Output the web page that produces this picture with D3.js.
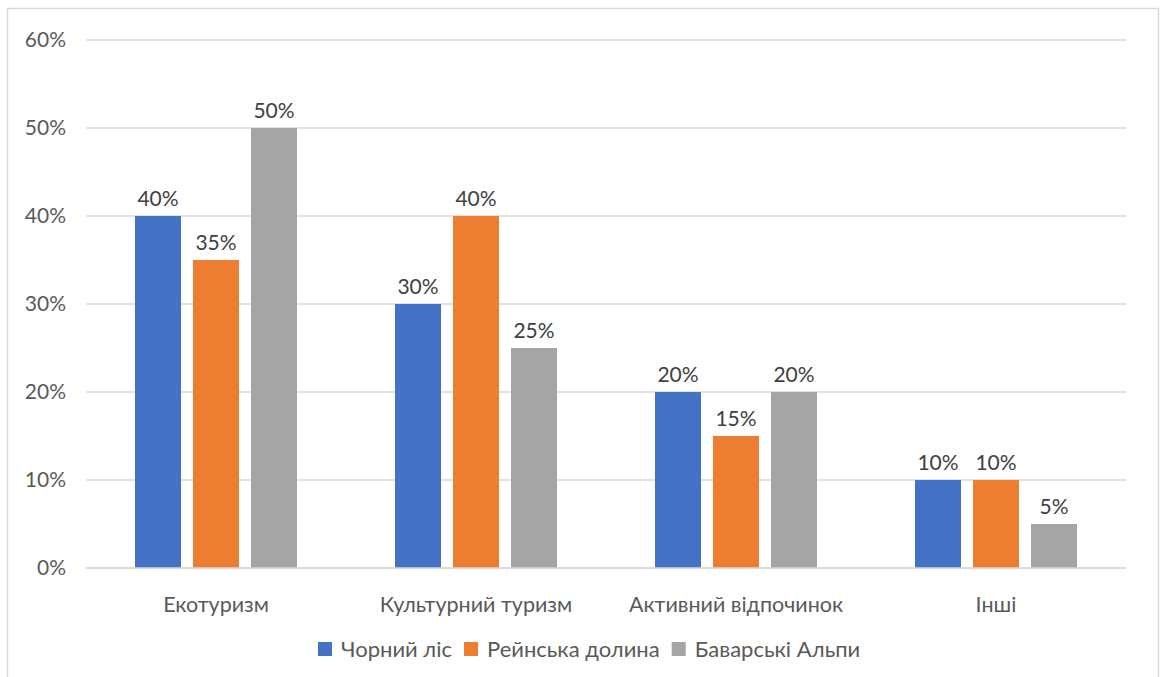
<!DOCTYPE html>
<html>
<head>
<meta charset="utf-8">
<script src="https://cdn.jsdelivr.net/npm/d3@7"></script>
<style>
  html, body { margin: 0; padding: 0; background: #fff; }
  svg { display: block; font-family: Lato, "Open Sans", sans-serif; }
</style>
</head>
<body>
<svg id="chart" width="1166" height="677"></svg>
<script>
// Data
var categories = ['Екотуризм', 'Культурний туризм', 'Активний відпочинок', 'Інші'];
var seriesNames = ['Чорний ліс', 'Рейнська долина', 'Баварські Альпи'];
var blackForest = [40, 30, 20, 10];
var rhineValley = [35, 40, 15, 10];
var bavarianAlps = [50, 25, 20, 5];
var yTicks = [0, 10, 20, 30, 40, 50, 60];

var seriesValues = [blackForest, rhineValley, bavarianAlps];
var colors = ['#4472c4', '#ed7d31', '#a5a5a5'];
var textColor = '#595959';

var svg = d3.select('#chart');

// chart border
svg.append('rect')
    .attr('x', 7.5).attr('y', 8.5)
    .attr('width', 1151).attr('height', 700)
    .attr('fill', 'none')
    .attr('stroke', '#d9d9d9')
    .attr('stroke-width', 1.5);

var plotLeft = 86, plotRight = 1126, plotTop = 40, plotBottom = 568;

var x = d3.scaleBand().domain(categories).range([plotLeft, plotRight]);
var y = d3.scaleLinear().domain([0, 60]).range([plotBottom, plotTop]);

var barW = 46, gap = 12;
var xSub = function(si) {
    return (x.bandwidth() - (3 * barW + 2 * gap)) / 2 + si * (barW + gap);
};

// gridlines
svg.append('g').selectAll('line')
    .data(yTicks).enter().append('line')
    .attr('x1', plotLeft).attr('x2', plotRight)
    .attr('y1', function(d){ return y(d); })
    .attr('y2', function(d){ return y(d); })
    .attr('stroke', '#d9d9d9')
    .attr('stroke-width', 1.5);

// y axis labels
svg.append('g').selectAll('text')
    .data(yTicks).enter().append('text')
    .attr('x', 66)
    .attr('y', function(d){ return y(d); })
    .attr('dy', '0.35em')
    .attr('text-anchor', 'end')
    .attr('fill', textColor)
    .attr('font-size', 21)
    .text(function(d){ return d + '%'; });

// bars
seriesValues.forEach(function(vals, si) {
    var g = svg.append('g');
    g.selectAll('rect')
        .data(vals).enter().append('rect')
        .attr('x', function(d, i){ return x(categories[i]) + xSub(si); })
        .attr('y', function(d){ return y(d); })
        .attr('width', barW)
        .attr('height', function(d){ return y(0) - y(d); })
        .attr('fill', colors[si]);

    g.selectAll('text')
        .data(vals).enter().append('text')
        .attr('x', function(d, i){ return x(categories[i]) + xSub(si) + barW / 2; })
        .attr('y', function(d){ return y(d) - 10; })
        .attr('text-anchor', 'middle')
        .attr('fill', '#404040')
        .attr('font-size', 21)
        .text(function(d){ return d + '%'; });
});

// redraw baseline on top
svg.append('line')
    .attr('x1', plotLeft).attr('x2', plotRight)
    .attr('y1', y(0)).attr('y2', y(0))
    .attr('stroke', '#d9d9d9')
    .attr('stroke-width', 1.5);

// category labels
svg.append('g').selectAll('text')
    .data(categories).enter().append('text')
    .attr('x', function(d){ return x(d) + x.bandwidth() / 2; })
    .attr('y', 612)
    .attr('text-anchor', 'middle')
    .attr('fill', textColor)
    .attr('font-size', 21.5)
    .text(function(d){ return d; });

// legend
var legend = svg.append('g');
var lx = 318;
seriesNames.forEach(function(name, i) {
    var item = legend.append('g').attr('transform', 'translate(' + lx + ',0)');
    item.append('rect')
        .attr('x', 0).attr('y', 642)
        .attr('width', 14).attr('height', 14)
        .attr('fill', colors[i]);
    var t = item.append('text')
        .attr('x', 23).attr('y', 657)
        .attr('fill', textColor)
        .attr('font-size', 22)
        .text(name);
    lx += 23 + t.node().getComputedTextLength() + 12;
});
</script>
</body>
</html>
